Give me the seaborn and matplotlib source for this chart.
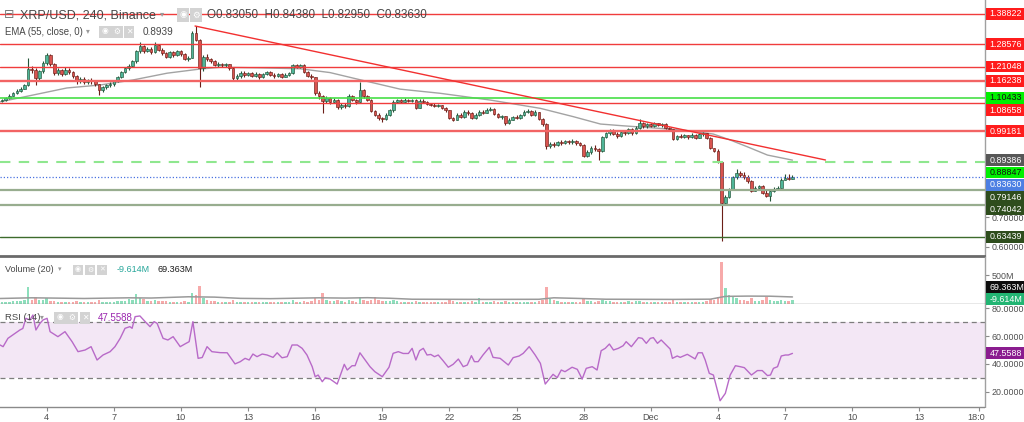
import numpy as np
import matplotlib
matplotlib.use("Agg")
import matplotlib.pyplot as plt
import seaborn as sns
from matplotlib.patches import Rectangle
from matplotlib.ticker import FuncFormatter

sns.set_style("white")
plt.rcParams["font.family"] = ["Liberation Sans", "DejaVu Sans"]

# ---------------- data ----------------
# x unit: day of month (Nov d -> d, Dec d -> 30 + d); 4h bars
bar_start_day = 2.0
bar_hours = 4
first_open = 1.093

close = [
    1.097, 1.103, 1.112, 1.120, 1.129, 1.136, 1.148, 1.203, 1.198, 1.172,
    1.195, 1.222, 1.250, 1.218, 1.190, 1.198, 1.186, 1.200, 1.193, 1.178,
    1.160, 1.170, 1.158, 1.165, 1.163, 1.150, 1.131, 1.140, 1.148, 1.152,
    1.162, 1.175, 1.192, 1.205, 1.212, 1.228, 1.262, 1.280, 1.262, 1.270,
    1.258, 1.283, 1.268, 1.255, 1.244, 1.258, 1.250, 1.262, 1.252, 1.236,
    1.240, 1.325, 1.300, 1.205, 1.243, 1.236, 1.228, 1.216, 1.220, 1.214,
    1.218, 1.205, 1.171, 1.178, 1.190, 1.182, 1.188, 1.180, 1.186, 1.174,
    1.186, 1.192, 1.183, 1.178, 1.185, 1.176, 1.183, 1.188, 1.214, 1.210,
    1.215, 1.192, 1.180, 1.174, 1.120, 1.110, 1.095, 1.104, 1.090, 1.098,
    1.072, 1.082, 1.076, 1.112, 1.098, 1.090, 1.130, 1.110, 1.098, 1.060,
    1.048, 1.035, 1.032, 1.048, 1.062, 1.092, 1.096, 1.090, 1.098, 1.094,
    1.097, 1.071, 1.094, 1.092, 1.084, 1.082, 1.076, 1.079, 1.070, 1.062,
    1.036, 1.030, 1.048, 1.040, 1.056, 1.052, 1.036, 1.046, 1.058, 1.054,
    1.064, 1.068, 1.050, 1.040, 1.042, 1.020, 1.030, 1.040, 1.038, 1.046,
    1.056, 1.060, 1.048, 1.056, 1.034, 1.015, 0.940, 0.950, 0.944, 0.956,
    0.952, 0.958, 0.955, 0.960, 0.951, 0.946, 0.908, 0.920, 0.936, 0.930,
    0.925, 0.972, 0.984, 0.995, 0.982, 0.976, 0.990, 0.986, 0.999, 0.985,
    1.004, 1.018, 1.008, 1.016, 1.010, 1.018, 1.012, 1.015, 1.002, 0.998,
    0.966, 0.976, 0.972, 0.978, 0.971, 0.978, 0.970, 0.982, 0.984, 0.970,
    0.934, 0.926, 0.888, 0.750, 0.770, 0.797, 0.836, 0.852, 0.845, 0.836,
    0.822, 0.790, 0.798, 0.805, 0.782, 0.772, 0.790, 0.797, 0.800, 0.828,
    0.832, 0.8305, 0.8363,
]
high = [
    1.101, 1.106, 1.116, 1.125, 1.133, 1.140, 1.152, 1.239, 1.212, 1.205,
    1.200, 1.230, 1.256, 1.253, 1.222, 1.205, 1.203, 1.208, 1.206, 1.197,
    1.182, 1.175, 1.174, 1.170, 1.172, 1.166, 1.152, 1.146, 1.152, 1.158,
    1.166, 1.180, 1.196, 1.210, 1.218, 1.232, 1.268, 1.294, 1.285, 1.276,
    1.275, 1.294, 1.288, 1.272, 1.260, 1.262, 1.262, 1.266, 1.265, 1.256,
    1.246, 1.330, 1.348, 1.305, 1.250, 1.252, 1.240, 1.232, 1.226, 1.224,
    1.222, 1.220, 1.208, 1.185, 1.196, 1.194, 1.193, 1.191, 1.192, 1.190,
    1.190, 1.197, 1.195, 1.188, 1.190, 1.188, 1.188, 1.192, 1.220, 1.218,
    1.220, 1.218, 1.195, 1.184, 1.176, 1.128, 1.115, 1.110, 1.108, 1.104,
    1.100, 1.088, 1.086, 1.116, 1.114, 1.102, 1.159, 1.134, 1.114, 1.100,
    1.064, 1.052, 1.040, 1.052, 1.066, 1.098, 1.102, 1.100, 1.103, 1.102,
    1.102, 1.100, 1.100, 1.100, 1.094, 1.088, 1.086, 1.084, 1.081, 1.072,
    1.064, 1.040, 1.052, 1.052, 1.062, 1.062, 1.056, 1.052, 1.062, 1.062,
    1.070, 1.074, 1.070, 1.054, 1.048, 1.044, 1.036, 1.044, 1.046, 1.050,
    1.062, 1.066, 1.062, 1.062, 1.058, 1.038, 1.018, 0.956, 0.956, 0.960,
    0.962, 0.963, 0.962, 0.964, 0.963, 0.956, 0.950, 0.928, 0.942, 0.944,
    0.936, 0.976, 0.988, 0.999, 0.998, 0.988, 0.995, 0.994, 1.004, 1.002,
    1.010, 1.032, 1.022, 1.020, 1.021, 1.022, 1.021, 1.020, 1.018, 1.006,
    1.000, 0.980, 0.981, 0.982, 0.980, 0.984, 0.982, 0.986, 0.988, 0.986,
    0.972, 0.936, 0.930, 0.890, 0.775, 0.800, 0.840, 0.864, 0.858, 0.853,
    0.842, 0.826, 0.806, 0.810, 0.810, 0.792, 0.795, 0.802, 0.806, 0.832,
    0.848, 0.846, 0.8438,
]
low = [
    1.090, 1.095, 1.100, 1.110, 1.116, 1.125, 1.133, 1.145, 1.188, 1.148,
    1.165, 1.190, 1.215, 1.212, 1.183, 1.182, 1.178, 1.183, 1.186, 1.172,
    1.152, 1.155, 1.152, 1.150, 1.152, 1.145, 1.114, 1.126, 1.136, 1.142,
    1.146, 1.158, 1.172, 1.188, 1.200, 1.208, 1.224, 1.255, 1.256, 1.258,
    1.252, 1.255, 1.262, 1.248, 1.240, 1.240, 1.244, 1.246, 1.247, 1.231,
    1.230, 1.238, 1.296, 1.142, 1.195, 1.230, 1.222, 1.212, 1.210, 1.208,
    1.210, 1.200, 1.165, 1.166, 1.172, 1.176, 1.178, 1.175, 1.176, 1.170,
    1.172, 1.182, 1.178, 1.173, 1.175, 1.172, 1.174, 1.178, 1.185, 1.205,
    1.206, 1.188, 1.175, 1.168, 1.115, 1.100, 1.053, 1.088, 1.085, 1.086,
    1.066, 1.068, 1.070, 1.074, 1.094, 1.085, 1.088, 1.105, 1.094, 1.055,
    1.042, 1.028, 1.024, 1.030, 1.044, 1.058, 1.086, 1.086, 1.088, 1.090,
    1.090, 1.068, 1.070, 1.086, 1.080, 1.076, 1.072, 1.072, 1.066, 1.058,
    1.032, 1.026, 1.028, 1.036, 1.038, 1.046, 1.032, 1.034, 1.044, 1.050,
    1.052, 1.060, 1.046, 1.036, 1.034, 1.013, 1.016, 1.028, 1.032, 1.034,
    1.042, 1.052, 1.044, 1.044, 1.030, 1.010, 0.932, 0.936, 0.938, 0.940,
    0.946, 0.948, 0.950, 0.950, 0.946, 0.940, 0.904, 0.906, 0.914, 0.926,
    0.894, 0.922, 0.968, 0.980, 0.978, 0.970, 0.972, 0.980, 0.982, 0.980,
    0.982, 1.000, 1.004, 1.004, 1.006, 1.006, 1.008, 1.006, 0.998, 0.992,
    0.962, 0.962, 0.968, 0.968, 0.966, 0.968, 0.966, 0.968, 0.976, 0.966,
    0.930, 0.920, 0.884, 0.620, 0.746, 0.766, 0.792, 0.830, 0.838, 0.830,
    0.816, 0.785, 0.788, 0.792, 0.778, 0.768, 0.757, 0.786, 0.794, 0.798,
    0.826, 0.826, 0.8295,
]
volume = [  # millions
    30, 28, 35, 40, 38, 45, 60, 290, 70, 120,
    55, 60, 100, 50, 45, 30, 28, 35, 30, 32,
    40, 30, 28, 25, 30, 35, 55, 35, 30, 28,
    35, 40, 45, 50, 75, 60, 160, 90, 80, 45,
    40, 60, 50, 40, 45, 35, 30, 35, 30, 40,
    35, 180, 150, 305, 90, 60, 45, 40, 35, 30,
    28, 30, 55, 35, 30, 28, 25, 30, 25, 28,
    25, 30, 28, 25, 25, 28, 25, 30, 55, 35,
    30, 40, 35, 40, 95, 70, 180, 60, 45, 40,
    55, 40, 35, 70, 45, 35, 110, 60, 45, 65,
    120, 55, 45, 40, 45, 60, 40, 30, 28, 25,
    25, 40, 35, 28, 25, 25, 28, 25, 30, 35,
    55, 40, 35, 30, 35, 30, 40, 30, 95, 30,
    35, 30, 40, 35, 30, 50, 35, 30, 28, 30,
    35, 30, 30, 28, 40, 60, 290, 80, 55, 45,
    35, 30, 28, 30, 30, 35, 75, 45, 40, 35,
    45, 60, 50, 40, 35, 30, 35, 30, 40, 30,
    40, 50, 35, 30, 28, 30, 28, 25, 30, 35,
    60, 35, 30, 28, 25, 30, 28, 35, 30, 40,
    80, 60, 110, 730, 270, 150, 120, 90, 60, 55,
    50, 95, 50, 45, 60, 120, 70, 50, 40, 60,
    45, 40, 69.363,
]

# EMA(55) line read at bar positions
ema_bar = [-0.5, 8.3, 17.4, 26.3, 35.1, 44.3, 53.1, 58.5, 69.2, 80, 88, 95.3, 106.8,
           117.5, 131, 144.4, 153.2, 160.5, 166.6, 175.7, 184.6, 190.8, 195.3, 199.9, 205.3, 212]
ema_val = [1.091, 1.114, 1.138, 1.148, 1.165, 1.188, 1.202, 1.208, 1.206, 1.203, 1.190, 1.168, 1.134,
           1.120, 1.097, 1.069, 1.041, 1.016, 1.010, 1.002, 0.993, 0.982, 0.962, 0.939, 0.911, 0.8939]

# Volume MA(20)
volma_bar = [-0.5, 8, 14, 22, 34, 40, 50, 57, 64, 72, 85, 92, 98, 104, 110, 130, 144, 148,
             154, 162, 180, 190, 194, 200, 206, 212]
volma_val = [88, 100, 95, 88, 100, 96, 118, 112, 90, 85, 100, 95, 102, 92, 75, 72, 74, 100,
             90, 75, 72, 76, 125, 130, 128, 115]

# RSI(14)
rsi_bar = [-0.5, 0.3, 1.6, 3.5, 4.8, 5.6, 6.4, 7.5, 8.3, 9.1, 10.2, 11, 12.1, 12.9, 15, 16.9, 18.8,
           20.4, 22.3, 23.9, 25.5, 27.1, 29, 30.3, 31.7, 33, 34.3, 34.9, 35.7, 37, 38.4, 39.7,
           40.8, 41.6, 43.2, 44.5, 45.9, 47.8, 49.1, 50.2, 51.2, 52.6, 53.7, 55, 56.3, 58.5,
           60.4, 62.5, 63.9, 65.2, 66.3, 67.3, 68.4, 69.8, 71.1, 72.7, 73.8, 75.1, 76.5, 77.8,
           79.2, 80.5, 81.8, 83.2, 84, 84.8, 85.9, 86.7, 88, 89.9, 91.8, 92.6, 93.9, 94.7, 96,
           97.4, 98.7, 100, 102, 103.8, 104.9, 106.3, 107.6, 109, 110, 111, 112, 113, 114, 115,
           116, 117, 118.3, 119.7, 121, 122.4, 123.7, 124.8, 125.9, 126.7, 127.7, 129, 130.7,
           131.7, 133.6, 135.8, 137.1, 138.7, 139.8, 141.4, 143, 144.4, 145.7, 147.8, 148.9,
           150, 151, 152.9, 154.3, 155.6, 156.7, 158.3, 159.6, 160.7, 161.8, 162.9, 164, 165.3,
           166.6, 167.4, 168.8, 170.7, 171.7, 172.8, 173.9, 174.7, 175.8, 176.8, 179.2, 179.8,
           181.1, 181.9, 183.8, 185.9, 186.7, 187.8, 188.6, 189.7, 190.8, 192.6, 194, 195.3,
           196.7, 198, 199.1, 201, 202.6, 203.9, 205.3, 206.1, 206.9, 208, 209, 210.1, 210.9, 212]
rsi_val = [53.6, 52.4, 58.4, 62, 64.4, 65.5, 72.8, 71.6, 75.2, 64.4, 69.2, 71.6, 72.8, 63.2, 59.6,
           63.2, 56, 48.8, 50, 52.4, 42.8, 46.4, 48.8, 52.4, 58.4, 65.6, 66.8, 65.6, 74, 74.5,
           70.4, 66.8, 70.4, 69.2, 58.4, 57.2, 59.6, 52.4, 54.4, 56, 70.4, 44, 44.6, 52.4, 48.8,
           48.1, 48, 40, 41.6, 44, 42.8, 47.1, 45.2, 47.1, 46.4, 44.7, 48, 44.4, 45.2, 53.6, 53.6,
           51.2, 46.4, 38, 30.8, 32, 27.2, 30, 29.1, 25.5, 39.7, 35.6, 38.7, 38.7, 48, 42.8, 38,
           34.4, 30.8, 37.6, 47.6, 48.8, 47.5, 47.5, 51.2, 42.8, 49.5, 51.2, 46.4, 46.8, 45.2,
           46.4, 42.3, 37.6, 39.7, 43.5, 38, 39.2, 45.9, 41.6, 41.6, 46.4, 51.9, 44.7, 44, 39.2,
           44.5, 45.7, 47.6, 52.4, 46.4, 40.4, 25.5, 32.5, 30.1, 35.6, 34.4, 37.6, 36.1, 29.1,
           36.8, 38, 35.6, 49.5, 51.2, 54.3, 50, 51.2, 53.1, 56, 52.4, 58.9, 58.4, 54.8, 58.4,
           58.9, 54.8, 57.2, 50.7, 44, 45.7, 44.7, 46.9, 43.6, 48, 48, 42.8, 33.2, 32, 13.5,
           18.8, 32, 38.7, 38, 37.3, 32, 35.2, 35.2, 31.6, 32, 36.8, 38, 45.7, 46.4, 46.4, 47.5588]

# horizontal levels drawn on the chart
level_price = [1.38822, 1.28576, 1.21048, 1.16238, 1.10433, 1.08658, 0.99181,
               0.88847, 0.83630, 0.79146, 0.74042, 0.63439]
level_kind = ["red", "red", "red", "red2", "green", "red", "red2",
              "dash", "last", "olive", "olive", "dkgreen"]
# trend line
trend_day = [10.63, 38.81]
trend_price = [1.3476, 0.8943]

# price-scale labels (value text, colour kind)
scale_text = ["1.38822", "1.28576", "1.21048", "1.16238", "1.10433", "1.08658", "0.99181",
              "0.89386", "0.88847", "0.83630", "0.79146", "0.74042", "0.63439"]
scale_kind = ["red", "red", "red", "red", "green", "red", "red",
              "ema", "green", "last", "dkgreen", "dkgreen", "dkgreen"]

xtick_day = [4, 7, 10, 13, 16, 19, 22, 25, 28, 31, 34, 37, 40, 43, 45.66]
xtick_label = ["4", "7", "10", "13", "16", "19", "22", "25", "28", "Dec", "4", "7", "10", "13", "18:00"]
price_ticks = [0.6, 0.7, 0.8, 0.9, 1.0, 1.1, 1.2, 1.3, 1.4]
rsi_ticks = [20, 40, 60, 80]
vol_ticks = [500]

# ---------------- figure ----------------
W, H = 1024, 422
fig = plt.figure(figsize=(W / 100, H / 100), dpi=100)
fig.patch.set_facecolor("white")

def fx(px):
    return px / W

def fyb(py):  # top-based pixel -> figure fraction
    return 1 - py / H

PR = 984.5
ax_p = fig.add_axes([0, fyb(255.5), fx(PR), 255.5 / H])
ax_v = fig.add_axes([0, fyb(304.3), fx(PR), (304.3 - 257.5) / H])
ax_r = fig.add_axes([0, fyb(406.7), fx(PR), (406.7 - 304.3) / H])

XMIN, XMAX = 1.9115, 45.918
for a in (ax_p, ax_v, ax_r):
    a.set_xlim(XMIN, XMAX)
    a.set_facecolor("white")
    for s in ("top", "left"):
        a.spines[s].set_visible(False)
    a.spines["right"].set_color("#a0a0a0")
    a.spines["right"].set_linewidth(1.0)
    a.yaxis.tick_right()
    a.tick_params(axis="y", length=3, color="#8a8a8a", labelsize=6.4,
                  labelcolor="#4f4f4f", pad=2)
    a.grid(False)

ax_p.spines["bottom"].set_color("#6a6a6a")
ax_p.spines["bottom"].set_linewidth(2.0)
ax_v.spines["bottom"].set_color("#8a8a8a")
ax_v.spines["bottom"].set_linewidth(1.0)
ax_r.spines["bottom"].set_color("#8a8a8a")
ax_r.spines["bottom"].set_linewidth(1.0)
ax_p.tick_params(axis="x", bottom=False, labelbottom=False)
ax_v.tick_params(axis="x", bottom=False, labelbottom=False)

ax_p.set_ylim(0.57124, 1.43558)
ax_v.set_ylim(-14, 807)
ax_r.set_ylim(9.21, 82.88)

# ---------------- candles ----------------
c = np.array(close)
hi = np.array(high)
lo = np.array(low)
o = np.r_[first_open, c[:-1]]
t = bar_start_day + np.arange(len(c)) * bar_hours / 24.0
up = c >= o
body_lo = np.minimum(o, c)
body_h = np.maximum(np.abs(c - o), 0.0018)
up_fill, dn_fill = "#4fb598", "#d9534f"
up_edge, dn_edge = "#225437", "#6b1e17"
ax_p.vlines(t, lo, hi, colors=np.where(up, up_edge, dn_edge), linewidth=0.8, zorder=3)
ax_p.bar(t, body_h, bottom=body_lo, width=0.118, color=np.where(up, up_fill, dn_fill),
         edgecolor=np.where(up, up_edge, dn_edge), linewidth=0.45, zorder=3.5)

# EMA
ema_t = bar_start_day + np.array(ema_bar) * bar_hours / 24.0
sns.lineplot(x=ema_t, y=ema_val, ax=ax_p, color="#a3a3a3", linewidth=1.0,
             estimator=None, sort=False, zorder=2.5)

# levels
styles = {
    "red": dict(color="#f03c3c", lw=1.0, ls="-"),
    "red2": dict(color="#f26464", lw=1.7, ls="-"),
    "green": dict(color="#47df47", lw=1.2, ls="-"),
    "dash": dict(color="#8fe78f", lw=1.5, ls=(0, (5, 4))),
    "last": dict(color="#4a72e0", lw=0.9, ls=(0, (1, 1.6))),
    "olive": dict(color="#98ad8f", lw=1.6, ls="-"),
    "dkgreen": dict(color="#3d6b2c", lw=1.0, ls="-"),
}
for v, k in zip(level_price, level_kind):
    st = styles[k]
    ax_p.axhline(v, color=st["color"], linewidth=st["lw"], linestyle=st["ls"], zorder=4)

ax_p.plot(trend_day, trend_price, color="#f23030", linewidth=1.0, zorder=4)
ax_p.set_xlabel("")
ax_p.set_ylabel("")

# ---------------- price-scale label boxes (placed first so plain ticks can avoid them) ----
box_col = {"red": ("#ff1c1c", "white"), "green": ("#00f000", "#111111"),
           "ema": ("#575757", "white"), "last": ("#4d7fe3", "white"),
           "dkgreen": ("#2e4d1d", "white")}

def scale_box(y_disp, text, bg, fg):
    fig.add_artist(Rectangle((fx(985.6), (y_disp - 5.9) / H), fx(39), 11.8 / H,
                             transform=fig.transFigure, facecolor=bg, edgecolor="none", zorder=5))
    fig.text(fx(989.5), y_disp / H, text, fontsize=6.4, color=fg, va="center", ha="left",
             zorder=6)

box_y = []
prev = None
gap = 12.3
for txt, kind in zip(scale_text, scale_kind):
    y = ax_p.transData.transform((XMIN, float(txt)))[1]
    if prev is not None and y > prev - gap:
        y = prev - gap
    prev = y
    box_y.append(y)
    bg, fg = box_col[kind]
    scale_box(y, txt, bg, fg)

# plain price ticks: label hidden where a coloured label box covers it
def price_fmt(v, pos):
    yd = ax_p.transData.transform((XMIN, v))[1]
    if min(abs(yd - b) for b in box_y) < 7:
        return ""
    return f"{v:.5f}"

ax_p.set_yticks(price_ticks)
ax_p.yaxis.set_major_formatter(FuncFormatter(price_fmt))

# ---------------- volume ----------------
ax_v.bar(t, volume, width=0.11, color=np.where(up, "#8ddfbc", "#f7aaaa"), linewidth=0, zorder=2)
vma_t = bar_start_day + np.array(volma_bar) * bar_hours / 24.0
sns.lineplot(x=vma_t, y=volma_val, ax=ax_v, color="#9a9a9a", linewidth=1.1,
             estimator=None, sort=False, zorder=3)
ax_v.set_yticks(vol_ticks)
ax_v.yaxis.set_major_formatter(FuncFormatter(lambda v, p: f"{v:.0f}M"))
ax_v.set_xlabel("")
ax_v.set_ylabel("")

# ---------------- RSI ----------------
ax_r.axhspan(30, 70, color="#f3e7f5", zorder=0, linewidth=0)
ax_r.axhline(70, color="#7d7d7d", linewidth=0.9, linestyle=(0, (4, 3)), zorder=1)
ax_r.axhline(30, color="#7d7d7d", linewidth=0.9, linestyle=(0, (4, 3)), zorder=1)
rsi_t = bar_start_day + np.array(rsi_bar) * bar_hours / 24.0
sns.lineplot(x=rsi_t, y=rsi_val, ax=ax_r, color="#b86ac8", linewidth=1.0,
             estimator=None, sort=False, zorder=3)
ax_r.set_yticks(rsi_ticks)
ax_r.yaxis.set_major_formatter(FuncFormatter(lambda v, p: f"{v:.4f}"))
ax_r.set_xticks(xtick_day)
ax_r.set_xticklabels(xtick_label)
ax_r.tick_params(axis="x", bottom=True, length=3, color="#8a8a8a", labelsize=6.6,
                 labelcolor="#4f4f4f", pad=1.5)
ax_r.set_xlabel("")
ax_r.set_ylabel("")

# cover the part of the time scale under the price scale
fig.add_artist(Rectangle((fx(985.0), 0), fx(40), (H - 407.6) / H, transform=fig.transFigure,
                         facecolor="white", edgecolor="none", zorder=4))

# volume scale labels
scale_box(H - 287.3, "69.363M", "#0d0d0d", "white")
scale_box(H - 299.3, "-9.614M", "#22b573", "white")
# RSI scale label
y_rsi = ax_r.transData.transform((XMIN, rsi_val[-1]))[1]
scale_box(y_rsi, f"{rsi_val[-1]:.4f}", "#8a1c8f", "white")

# ---------------- legends (top-left texts) ----------------
def ftext(px, py, s, size, color, **kw):
    fig.text(fx(px), fyb(py), s, fontsize=size, color=color, va="center", ha="left", **kw)

def icon(px, py, glyph, size=6.0):
    fig.text(fx(px), fyb(py), glyph, fontsize=size, color="white", va="center", ha="center",
             bbox=dict(boxstyle="square,pad=0.28", facecolor="#d3d3d3", edgecolor="none"),
             zorder=6)

TXT = "#474747"
ftext(4, 15, "\u229f", 9, "#7a7a7a")
ftext(20, 15, "XRP/USD, 240, Binance", 9.0, TXT)
ftext(160, 15, "\u25be", 6, "#9a9a9a")
icon(183, 15, "\u25c9", 6.3)
icon(196, 15, "\u2699", 6.3)
ftext(207, 15, "O0.83050  H0.84380  L0.82950  C0.83630", 8.4, TXT)

ftext(5, 32, "EMA (55, close, 0)", 6.9, TXT)
ftext(86, 32, "\u25be", 5.5, "#9a9a9a")
icon(105, 32, "\u25c9", 5.6)
icon(117, 32, "\u2699", 5.6)
icon(129, 32, "\u2715", 5.6)
ftext(143, 32, "0.8939", 7.2, TXT)

ftext(5, 270, "Volume (20)", 6.5, TXT)
ftext(58, 270, "\u25be", 5.0, "#9a9a9a")
icon(78, 270, "\u25c9", 5.0)
icon(90, 270, "\u2699", 5.0)
icon(102, 270, "\u2715", 5.0)
ftext(117, 270, "-9.614M", 6.5, "#26a69a")
ftext(157, 270, "69.363M", 6.5, "#1a1a1a")

ftext(5, 318, "RSI (14)", 6.8, TXT)
ftext(40, 318, "\u25be", 5.5, "#9a9a9a")
icon(60, 318, "\u25c9", 5.6)
icon(72, 318, "\u2699", 5.6)
icon(85, 318, "\u2715", 5.6)
ftext(98, 318, "47.5588", 7.0, "#9b27af")

fig.savefig("out.png", dpi=100, facecolor="white")
